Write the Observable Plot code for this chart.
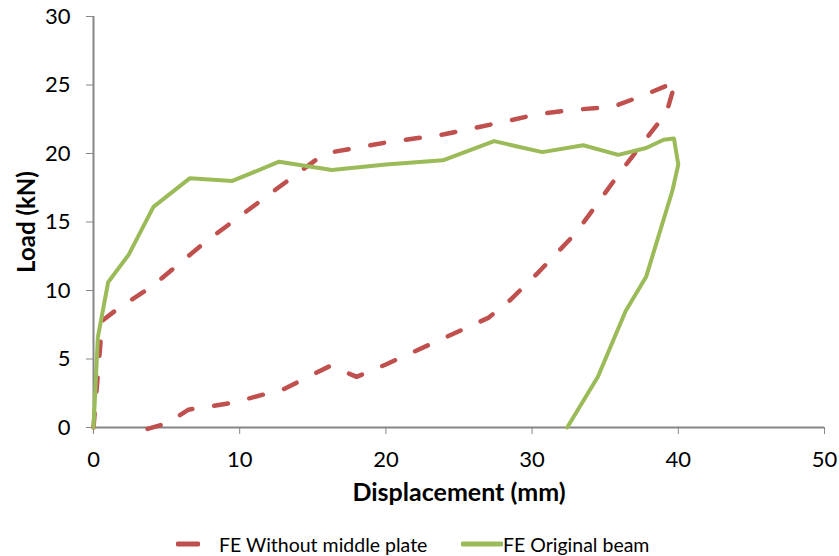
<!DOCTYPE html>
<html>
<head>
<meta charset="utf-8">
<script src="https://cdn.jsdelivr.net/npm/d3@7"></script>
<script src="https://cdn.jsdelivr.net/npm/@observablehq/plot@0.6"></script>
<style>
  html, body { margin: 0; padding: 0; background: #fff; }
  #wrap { position: relative; width: 839px; height: 556px; font-family: Lato, "Open Sans", sans-serif; }
  #legend { position: absolute; left: 0; top: 531px; width: 839px; height: 26px; font-size: 19.5px; color: #000; }
  .li { position: absolute; top: 0; display: flex; align-items: center; height: 26px; white-space: nowrap; }
</style>
</head>
<body>
<div id="wrap">
  <div id="chart"></div>
  <div id="legend"></div>
</div>
<script>
// FE Without middle plate (displacement mm, load kN)
const redX = [0, 0.6, 1.7, 4.0, 7.6, 12.0, 15.8, 20.0, 24.0, 28.0, 30.5, 33.0, 35.5, 37.5, 39.8, 39.2, 36.0, 33.0, 30.5, 28.5, 27.0, 23.5, 20.0, 18.0, 16.2, 13.0, 9.5, 6.5, 5.0, 3.7];
const redY = [0, 7.8, 8.7, 10.3, 13.5, 17.0, 20.0, 20.8, 21.4, 22.3, 22.9, 23.2, 23.4, 24.2, 25.2, 23.0, 18.6, 14.2, 11.4, 9.3, 8.0, 6.3, 4.6, 3.7, 4.5, 2.8, 1.8, 1.3, 0.3, -0.1];
// FE Original beam
const greenX = [0, 0.3, 1.0, 2.4, 4.1, 6.6, 9.5, 12.7, 16.3, 20.0, 23.9, 27.4, 30.7, 33.5, 35.9, 37.8, 39.0, 39.7, 40.0, 39.6, 37.8, 36.4, 34.5, 32.4];
const greenY = [0, 6.6, 10.6, 12.6, 16.1, 18.2, 18.0, 19.4, 18.8, 19.2, 19.5, 20.9, 20.1, 20.6, 19.9, 20.4, 21.0, 21.1, 19.2, 17.3, 11.0, 8.5, 3.7, 0];
const xTicks = [0, 10, 20, 30, 40, 50];
const yTicks = [0, 5, 10, 15, 20, 25, 30];
const seriesNames = ["FE Without middle plate", "FE Original beam"];
const seriesColors = ["#C0504D", "#9BBB59"];

const red = redX.map((x, i) => ({x, y: redY[i]}));
const green = greenX.map((x, i) => ({x, y: greenY[i]}));

const chart = Plot.plot({
  width: 839,
  height: 530,
  marginTop: 16,
  marginLeft: 93,
  marginRight: 15,
  marginBottom: 103,
  style: { fontFamily: "Lato, 'Open Sans', sans-serif", background: "#fff", color: "#000" },
  x: { domain: [0, 50] },
  y: { domain: [0, 30] },
  marks: [
    Plot.axisY({ ticks: yTicks, tickSize: 7, tickPadding: 16, fontSize: 22, stroke: "#868686", fill: "#000", label: null }),
    Plot.axisX({ ticks: xTicks, tickSize: 7, tickPadding: 17, fontSize: 22, stroke: "#868686", fill: "#000", label: null }),
    Plot.ruleX([0], { stroke: "#868686", strokeWidth: 2 }),
    Plot.ruleY([0], { stroke: "#868686", strokeWidth: 2 }),
    Plot.line(red, { x: "x", y: "y", stroke: seriesColors[0], strokeWidth: 4.5, strokeDasharray: "14 22", strokeLinecap: "round", strokeLinejoin: "round" }),
    Plot.line(green, { x: "x", y: "y", stroke: seriesColors[1], strokeWidth: 4, strokeLinejoin: "round" }),
    Plot.text(["Displacement (mm)"], { frameAnchor: "bottom", dy: 73, fontSize: 25, fontWeight: "bold", fill: "#000" }),
    Plot.text(["Load (kN)"], { frameAnchor: "left", dx: -66, rotate: -90, textAnchor: "middle", fontSize: 24, fontWeight: "bold", fill: "#000" })
  ]
});
document.getElementById("chart").appendChild(chart);

const legend = document.getElementById("legend");
const items = [
  { left: 176, sw: 20, gap: 19 },
  { left: 461, sw: 38, gap: 0 }
];
items.forEach((it, i) => {
  const d = document.createElement("div");
  d.className = "li";
  d.style.left = it.left + "px";
  const s = document.createElementNS("http://www.w3.org/2000/svg", "svg");
  s.setAttribute("width", it.sw + 4);
  s.setAttribute("height", 10);
  const l = document.createElementNS("http://www.w3.org/2000/svg", "line");
  l.setAttribute("x1", 2); l.setAttribute("x2", it.sw + 2);
  l.setAttribute("y1", 5); l.setAttribute("y2", 5);
  l.setAttribute("stroke", seriesColors[i]);
  l.setAttribute("stroke-width", 5);
  l.setAttribute("stroke-linecap", "round");
  s.appendChild(l);
  d.appendChild(s);
  const t = document.createElement("span");
  t.textContent = seriesNames[i];
  t.style.marginLeft = it.gap + "px";
  d.appendChild(t);
  legend.appendChild(d);
});
</script>
</body>
</html>
